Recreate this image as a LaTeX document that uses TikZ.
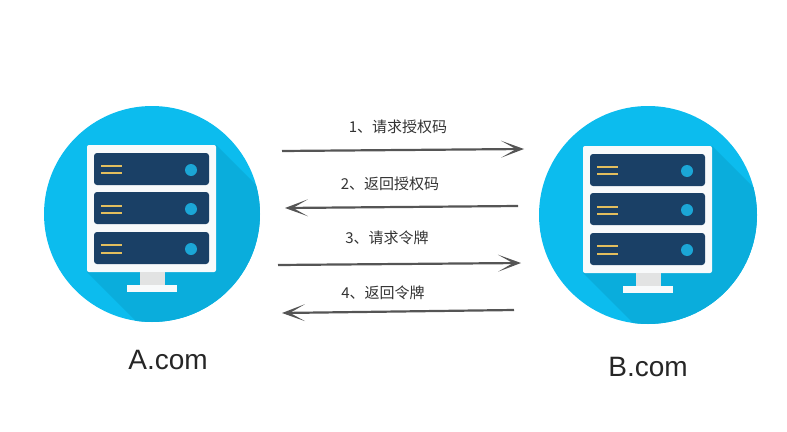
\documentclass[tikz,border=0pt]{standalone}
\usepackage{fontspec}
\setmainfont{Liberation Sans}
\newfontfamily\cjk{Noto Sans CJK SC}
\usetikzlibrary{arrows.meta}
\definecolor{discblue}{HTML}{0CBCEE}
\definecolor{discshade}{HTML}{0AADDC}
\definecolor{panelblue}{HTML}{1A4066}
\definecolor{lampblue}{HTML}{1BA6D6}
\definecolor{slotgold}{HTML}{E2BE5E}
\definecolor{framewhite}{HTML}{F8FAFB}
\definecolor{stemgray}{HTML}{E2E3E3}
\definecolor{arrowgray}{HTML}{555555}
\definecolor{labelgray}{HTML}{333333}
\tikzset{
  x=1pt,y=-1pt,
  flow/.style={draw=arrowgray,line width=2.2pt,-{Stealth[length=23pt,width=17pt,inset=15pt,line width=0pt]}},
  steplabel/.style={text=labelgray,inner sep=0pt,font=\fontsize{15pt}{18pt}\selectfont\cjk},
  hostlabel/.style={text=black!85,inner sep=0pt,font=\fontsize{28pt}{32pt}\selectfont},
  panel/.style={fill=panelblue,rounded corners=3pt},
  slot/.style={draw=slotgold,line width=1.8pt},
  lamp/.style={fill=lampblue}
}
\newcommand{\serverat}[3]{%
  \begin{scope}[shift={(#1,#2)}]
    \fill[discblue] (0,0) circle[radius=#3];
    \begin{scope}
      \clip (0,0) circle[radius=#3];
      \fill[discshade] (64,-69) -- (210,77) -- (210,210) -- (75,198) -- (-65,58) -- cycle;
    \end{scope}
    \fill[framewhite,rounded corners=2pt] (-65,-69) rectangle (64,58);
    \fill[stemgray] (-12,58) rectangle (13,71);
    \fill[framewhite] (-25,71) rectangle (25,78);
    \foreach \top/\la/\lb/\ly in {-61/-48/-41/-44,-22/-8/-1/-5,18/31/39/35}{
      \path[panel] (-58,\top) rectangle (57,\top+32);
      \draw[slot] (-51,\la) -- (-30,\la);
      \draw[slot] (-51,\lb) -- (-30,\lb);
      \path[lamp] (39,\ly) circle[radius=6];
    }
  \end{scope}}
\begin{document}
\begin{tikzpicture}
\useasboundingbox (0,0) rectangle (787,431);
\serverat{152}{214}{108}
\serverat{648}{215}{109}
\coordinate (a1) at (282,151); \coordinate (b1) at (524,149);
\coordinate (b2) at (518,206); \coordinate (a2) at (285,208);
\coordinate (a3) at (278,265); \coordinate (b3) at (521,263);
\coordinate (b4) at (514,310); \coordinate (a4) at (282,313);
\draw[flow] (a1) -- (b1);
\draw[flow] (b2) -- (a2);
\draw[flow] (a3) -- (b3);
\draw[flow] (b4) -- (a4);
\node[steplabel] (s1) at (398,127) {1、请求授权码};
\node[steplabel] (s2) at (390,184) {2、返回授权码};
\node[steplabel] (s3) at (387,238) {3、请求令牌};
\node[steplabel] (s4) at (383,293) {4、返回令牌};
\node[hostlabel] (ha) at (168,360) {A.com};
\node[hostlabel] (hb) at (648,367) {B.com};
\end{tikzpicture}
\end{document}
